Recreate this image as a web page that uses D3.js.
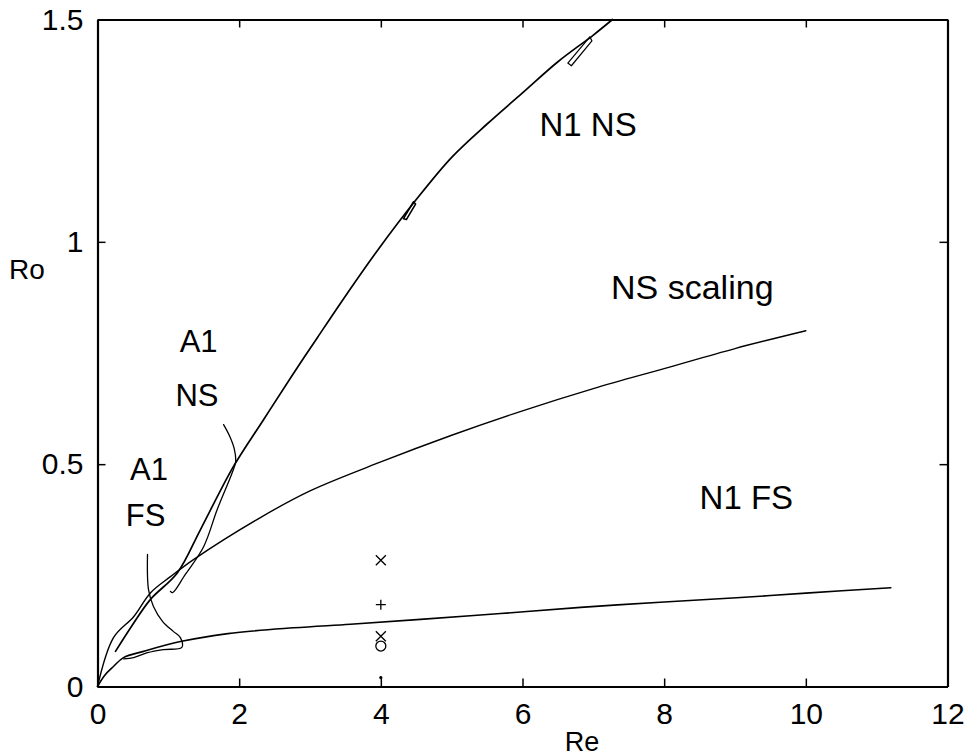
<!DOCTYPE html>
<html>
<head>
<meta charset="utf-8">
<script src="https://cdn.jsdelivr.net/npm/d3@7"></script>
<style>
  html, body { margin: 0; padding: 0; background: #fff; }
  svg { display: block; }
  text { font-family: "Liberation Sans", Arial, Helvetica, sans-serif; fill: #000; }
</style>
</head>
<body>
<svg id="chart" width="977" height="756"></svg>
<script>
// ---- data ----
const xTicks = [0, 2, 4, 6, 8, 10, 12];
const yTicks = [0, 0.5, 1, 1.5];
const yTickLabels = ["0", "0.5", "1", "1.5"];

// N1 NS branch
const n1nsRe = [0.254, 0.50, 0.748, 1.129, 1.454, 1.92, 2.344, 2.75, 3.106, 3.53, 3.95, 4.5, 5.0, 5.5, 6.0, 6.5, 7.0, 7.27];
const n1nsRo = [0.079, 0.140, 0.196, 0.256, 0.353, 0.495, 0.600, 0.700, 0.785, 0.885, 0.980, 1.095, 1.190, 1.265, 1.335, 1.405, 1.465, 1.500];
// small lobes on N1 NS
const n1nsLoopRe = [6.64, 6.69, 6.98, 6.95, 6.64];
const n1nsLoopRo = [1.402, 1.396, 1.452, 1.461, 1.402];
const n1nsLoop2Re = [4.32, 4.36, 4.49, 4.46, 4.32];
const n1nsLoop2Ro = [1.052, 1.050, 1.085, 1.090, 1.052];

// N1 FS branch
const n1fsRe = [0, 0.10, 0.226, 0.367, 0.65, 1.17, 1.84, 2.77, 3.57, 4.56, 5.69, 6.82, 8.0, 9.08, 10.0, 11.2];
const n1fsRo = [0, 0.025, 0.045, 0.065, 0.079, 0.101, 0.119, 0.132, 0.140, 0.151, 0.164, 0.178, 0.190, 0.200, 0.210, 0.222];

// NS scaling
const nsScRe = [0, 0.226, 0.51, 0.75, 1.03, 1.36, 2.30, 3.0, 4.0, 5.0, 6.0, 7.0, 8.0, 9.0, 10.0];
const nsScRo = [0, 0.110, 0.157, 0.211, 0.247, 0.286, 0.380, 0.440, 0.505, 0.565, 0.620, 0.670, 0.715, 0.760, 0.800];

// A1 NS branch
const a1nsRe = [1.78, 1.86, 1.93, 1.95, 1.90, 1.69, 1.50, 1.24, 1.06, 1.03];
const a1nsRo = [0.589, 0.565, 0.535, 0.505, 0.480, 0.398, 0.315, 0.252, 0.211, 0.214];

// A1 FS branch
const a1fsRe = [0.706, 0.72, 0.79, 0.92, 1.07, 1.17, 1.19, 0.93, 0.706, 0.51, 0.37];
const a1fsRo = [0.297, 0.218, 0.180, 0.146, 0.124, 0.110, 0.088, 0.083, 0.076, 0.065, 0.062];

// markers at Re = 4
const markRe = [4, 4, 4, 4, 4];
const markRo = [0.284, 0.184, 0.113, 0.091, 0.02];
const markType = ["x", "+", "x", "o", "."];

const labels = [
  { text: "N1 NS", re: 6.24, ro: 1.237, size: 33 },
  { text: "NS scaling", re: 7.25, ro: 0.872, size: 34 },
  { text: "A1", re: 1.16, ro: 0.752, size: 31 },
  { text: "NS", re: 1.10, ro: 0.630, size: 31 },
  { text: "A1", re: 0.46, ro: 0.465, size: 31 },
  { text: "FS", re: 0.40, ro: 0.362, size: 31 },
  { text: "N1 FS", re: 8.50, ro: 0.400, size: 33 }
];

// ---- drawing ----
const svg = d3.select("#chart");
const L = 97.5, R = 947.5, T = 19.5, B = 686.5;
const x = d3.scaleLinear().domain([0, 12]).range([L, R]);
const y = d3.scaleLinear().domain([0, 1.5]).range([B, T]);

const zip = (a, b) => a.map((v, i) => [v, b[i]]);
const line = d3.line().x(d => x(d[0])).y(d => y(d[1])).curve(d3.curveCatmullRom.alpha(0.5));
const lineLin = d3.line().x(d => x(d[0])).y(d => y(d[1]));

const g = svg.append("g");

function drawCurve(re, ro, w, gen) {
  g.append("path").attr("d", (gen || line)(zip(re, ro)))
    .attr("fill", "none").attr("stroke", "#000").attr("stroke-width", w)
    .attr("stroke-linejoin", "round").attr("stroke-linecap", "round");
}
drawCurve(nsScRe, nsScRo, 1.4);
drawCurve(n1fsRe, n1fsRo, 1.6);
drawCurve(n1nsRe, n1nsRo, 1.7);
drawCurve(n1nsLoopRe, n1nsLoopRo, 1.2, lineLin);
drawCurve(n1nsLoop2Re, n1nsLoop2Ro, 1.6, lineLin);
drawCurve(a1nsRe, a1nsRo, 1.3);
drawCurve(a1fsRe, a1fsRo, 1.3);

// markers
const mk = g.append("g").attr("stroke", "#000").attr("fill", "none").attr("stroke-width", 1.3);
zip(markRe, markRo).forEach((p, i) => {
  const cx = x(p[0]), cy = y(p[1]), s = 5, t = markType[i];
  if (t === "x") {
    mk.append("path").attr("d", `M${cx - s},${cy - s}L${cx + s},${cy + s}M${cx - s},${cy + s}L${cx + s},${cy - s}`);
  } else if (t === "+") {
    mk.append("path").attr("d", `M${cx - s},${cy}L${cx + s},${cy}M${cx},${cy - s}L${cx},${cy + s}`);
  } else if (t === "o") {
    mk.append("circle").attr("cx", cx).attr("cy", cy).attr("r", 5);
  } else {
    mk.append("circle").attr("cx", cx).attr("cy", cy).attr("r", 1).attr("fill", "#000");
  }
});

// frame with inward ticks (MATLAB box style)
const tickLen = 8;
const xBottom = d3.axisBottom(x).tickValues(xTicks).tickSizeInner(-tickLen).tickSizeOuter(0).tickPadding(tickLen + 8).tickFormat(d3.format("d"));
const xTop = d3.axisTop(x).tickValues(xTicks).tickSizeInner(-tickLen).tickSizeOuter(0).tickFormat("");
const yLeft = d3.axisLeft(y).tickValues(yTicks).tickSizeInner(-tickLen).tickSizeOuter(0).tickPadding(tickLen + 6).tickFormat((d, i) => yTickLabels[i]);
const yRight = d3.axisRight(y).tickValues(yTicks).tickSizeInner(-tickLen).tickSizeOuter(0).tickFormat("");

function styleAxis(sel) {
  sel.select(".domain").attr("stroke", "#000").attr("stroke-width", 2.2);
  sel.selectAll(".tick line").attr("stroke", "#000").attr("stroke-width", 1.5);
  sel.selectAll(".tick text").attr("font-size", 30).attr("font-family", "Liberation Sans, Arial, sans-serif").attr("fill", "#000");
}
svg.append("g").attr("transform", `translate(0,${B})`).call(xBottom).call(styleAxis);
svg.append("g").attr("transform", `translate(0,${T})`).call(xTop).call(styleAxis);
svg.append("g").attr("transform", `translate(${L},0)`).call(yLeft).call(styleAxis);
svg.append("g").attr("transform", `translate(${R},0)`).call(yRight).call(styleAxis);

// axis titles
svg.append("text").attr("x", 582).attr("y", 751).attr("text-anchor", "middle").attr("font-size", 27).text("Re");
svg.append("text").attr("x", 27).attr("y", 279).attr("text-anchor", "middle").attr("font-size", 28).text("Ro");

// in-plot labels
labels.forEach(l => {
  svg.append("text").attr("x", x(l.re)).attr("y", y(l.ro)).attr("font-size", l.size).text(l.text);
});
</script>
</body>
</html>
